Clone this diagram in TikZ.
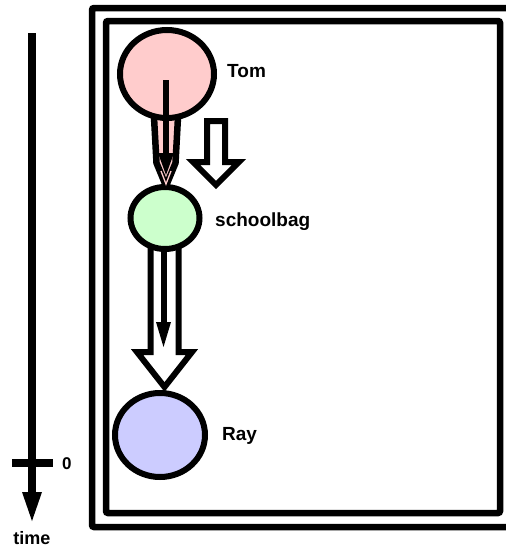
\documentclass[tikz,border=0pt]{standalone}
\usepackage{fontspec}
\setmainfont{Liberation Sans}
\usetikzlibrary{shapes.geometric,calc}
\definecolor{tompink}{HTML}{FFCCCC}
\definecolor{sbgreen}{HTML}{CCFFCC}
\definecolor{rayblue}{HTML}{CCCCFF}
\tikzset{
  ell/.style={ellipse, draw=black, line width=6pt, inner sep=0pt},
  lab/.style={anchor=west, inner sep=0pt, font=\bfseries\fontsize{19}{19}\selectfont},
  frame/.style={draw=black, line width=6.5pt, rounded corners=2pt},
  hollow/.style={draw=black, fill=white, line width=6pt, line join=miter},
}
\begin{document}
\begin{tikzpicture}[x=1pt,y=-1pt]
\useasboundingbox (0,0) rectangle (506,549);
% frames
\draw[frame] (92,8) rectangle (514,527);
\draw[frame] (106,21) rectangle (500,513);
% time axis
\coordinate (ttop) at (32,33);
\coordinate (tbot) at (32,493);
\coordinate (tick) at (32,463);
\draw[line width=8pt] (ttop) -- (tbot);
\fill ($(tbot)+(-10,-1)$) -- ($(tbot)+(10,-1)$) -- ($(tbot)+(0,28)$) -- cycle;
\draw[line width=8pt] ($(tick)+(-20,0)$) -- ($(tick)+(21,0)$);
\node[lab, font=\bfseries\fontsize{17}{17}\selectfont] (zero) at (62,464) {0};
\node[lab, anchor=center, font=\bfseries\fontsize{18}{18}\selectfont] (time) at (32,538) {time};
% node positions
\coordinate (tomc) at (167,74);
\coordinate (sbc) at (165,218);
\coordinate (rayc) at (160,435);
% double-line arrow Tom -> schoolbag (behind ellipses)
\filldraw[fill=tompink, draw=black, line width=6.5pt, line join=round]
  (153.5,108) -- (156.5,163) -- (166,186) -- (175.5,163) -- (178.5,108) -- cycle;
% hollow arrow schoolbag -> Ray (behind ellipses)
\filldraw[hollow] (150.5,238) -- (150.5,352) -- (137,352) -- (164.5,387)
  -- (192,352) -- (178.5,352) -- (178.5,238) -- cycle;
% ellipses
\node[ell, fill=tompink, minimum width=94pt, minimum height=88pt] (tom) at (tomc) {};
\node[ell, fill=sbgreen, minimum width=69pt, minimum height=62pt] (sb) at (sbc) {};
\node[ell, fill=rayblue, minimum width=90pt, minimum height=84pt] (ray) at (rayc) {};
% inner black arrow Tom -> schoolbag
\draw[line width=6pt] ($(tom.center)+(-1,6)$) -- ($(tom.center)+(-1,82)$);
\fill (158,153) -- (174,153) -- (166,175) -- cycle;
\draw[tompink, line width=1.3pt] (161,171) -- (166,184) -- (171,171);
% inner black arrow in schoolbag -> Ray
\draw[line width=6pt] ($(sb.south)+(-1.5,0)$) -- (163.5,326);
\fill (156,322) -- (171,322) -- (163.5,347) -- cycle;
% separate hollow arrow
\filldraw[hollow] (207,121) -- (225,121) -- (225,162) -- (239,162) -- (216,185)
  -- (193,162) -- (207,162) -- cycle;
% labels
\node[lab] (tomlab) at (227,71) {Tom};
\node[lab] (sblab) at (215,222) {schoolbag};
\node[lab] (raylab) at (222,436) {Ray};
\end{tikzpicture}
\end{document}
